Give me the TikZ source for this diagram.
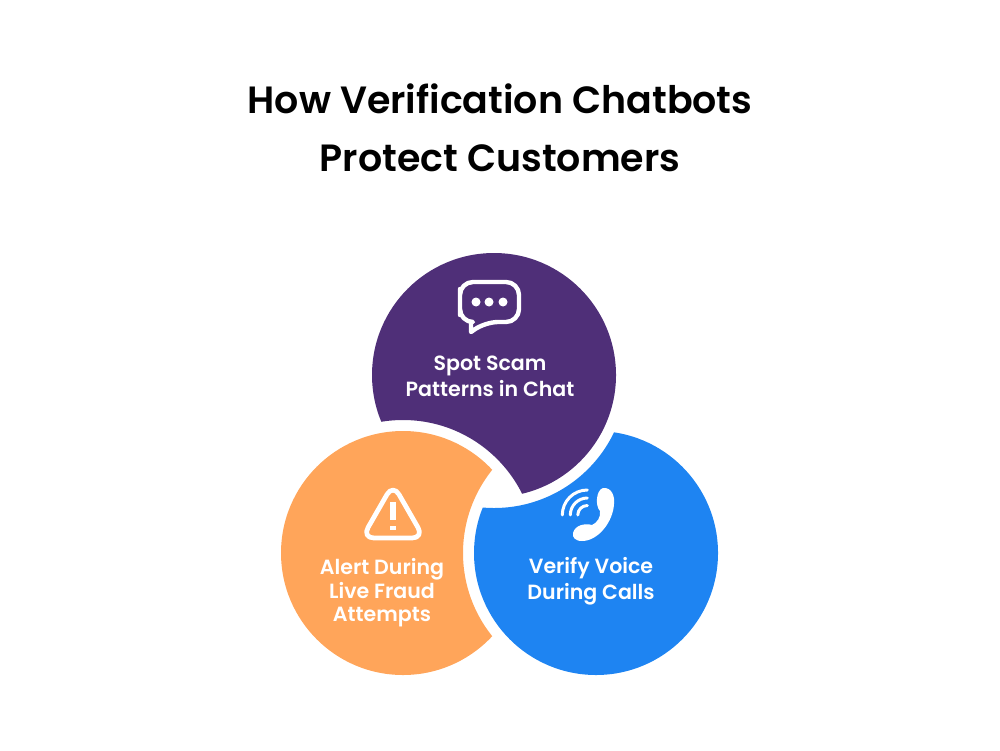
\documentclass[tikz,border=0pt]{standalone}
\usepackage{fontspec}
\setmainfont{Poppins}[BoldFont={Poppins SemiBold}]
\definecolor{chatpurple}{HTML}{4F2F78}
\definecolor{alertorange}{HTML}{FFA55A}
\definecolor{voiceblue}{HTML}{1E84F2}
\tikzset{
    titletext/.style={font=\fontsize{10.8}{16.4}\selectfont\bfseries, align=center, text=black},
    bubbletext/.style={font=\fontsize{5.85}{7.4}\selectfont\bfseries, align=center, text=white},
    iconline/.style={draw=white, line width=1.25pt, line join=round, line cap=round},
}
% disc minus the white ring of the disc lying over it
\newcommand{\cutdisc}[3]{
    \begin{scope}[even odd rule]
        \clip (0,0) rectangle (10,7.5) (#2) circle (1.33);
        \fill[#3] (#1) circle (1.22);
    \end{scope}
}
\begin{document}
\begin{tikzpicture}
    \useasboundingbox (0,0) rectangle (10,7.5);
    \coordinate (C) at (4.94,3.75);
    \coordinate (A) at (4.03,1.97);
    \coordinate (V) at (5.96,1.97);
    \cutdisc{C}{A}{chatpurple}
    \cutdisc{A}{V}{alertorange}
    \cutdisc{V}{C}{voiceblue}
    \node[titletext] (title) at (5,6.22) {How Verification Chatbots\\Protect Customers};
    \node[bubbletext] (chat) at (4.9,3.74) {Spot Scam\\Patterns in Chat};
    \node[bubbletext, font=\fontsize{5.85}{6.7}\selectfont\bfseries] (alert) at (3.82,1.57) {Alert During\\Live Fraud\\Attempts};
    \node[bubbletext] (voice) at (5.91,1.69) {Verify Voice\\During Calls};
    % chat icon
    \draw[iconline, rounded corners=1.3mm] (4.6,4.48) -- (4.6,4.68) -- (5.19,4.68) -- (5.19,4.28)
        -- (4.85,4.28) [sharp corners] -- (4.71,4.18) -- (4.71,4.28) [rounded corners=1.3mm] -- (4.6,4.28) -- cycle;
    \foreach \dotx in {4.76,4.89,5.03}
        \fill[white] (\dotx,4.48) circle (0.045);
    % warning icon
    \draw[iconline, line width=1.35pt, rounded corners=1.2mm] (3.93,2.66) -- (4.24,2.12) -- (3.62,2.12) -- cycle;
    \fill[white] (3.895,2.48) rectangle (3.96,2.30);
    \fill[white] (3.895,2.24) rectangle (3.96,2.20);
    % phone icon
    \fill[white] (6.03,2.62) .. controls (6.12,2.63) and (6.15,2.53) .. (6.14,2.46)
        .. controls (6.13,2.28) and (5.98,2.09) .. (5.82,2.09)
        .. controls (5.75,2.09) and (5.72,2.13) .. (5.73,2.17)
        .. controls (5.75,2.25) and (5.85,2.27) .. (5.92,2.25)
        .. controls (5.97,2.27) and (6.01,2.33) .. (6.00,2.39)
        .. controls (5.95,2.44) and (5.96,2.60) .. (6.03,2.62) -- cycle;
    \foreach \arcr in {0.25,0.17,0.095}
        \draw[draw=white, line width=0.85pt, line cap=round] (5.873,2.35) ++(180:\arcr) arc (180:90:\arcr);
\end{tikzpicture}
\end{document}
